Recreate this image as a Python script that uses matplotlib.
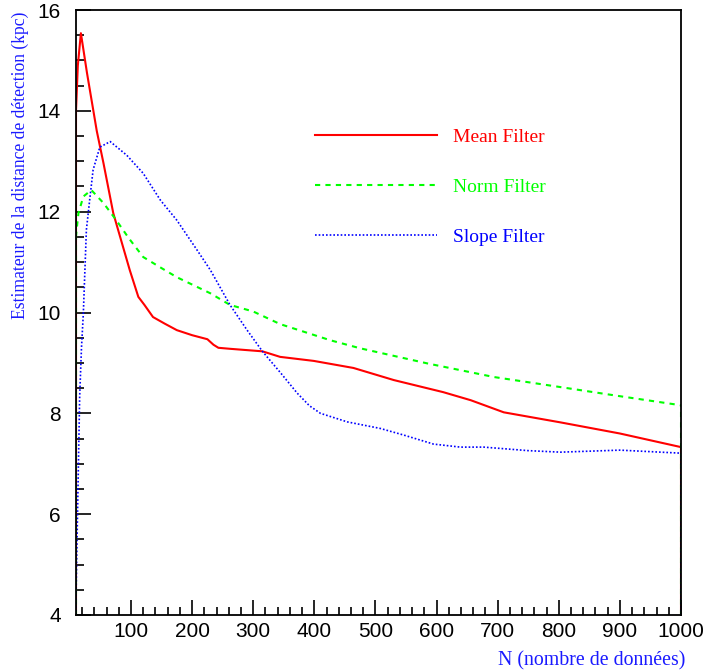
import matplotlib
matplotlib.use('Agg')
import matplotlib.pyplot as plt
from matplotlib.ticker import MultipleLocator

# Mean Filter (red, solid)
mean_x = [10, 13, 18, 28, 44, 55, 71, 87, 98, 112, 122, 136, 155, 175, 200, 225, 235, 243, 262,
          315, 344, 399, 464, 508, 530, 611, 656, 710, 803, 900, 1000]
mean_y = [14.0, 14.9, 15.54, 14.75, 13.6, 12.96, 11.97, 11.3, 10.84, 10.31, 10.15, 9.91, 9.78,
          9.65, 9.55, 9.47, 9.36, 9.30, 9.28, 9.23, 9.12, 9.04, 8.9, 8.74, 8.66, 8.42, 8.26,
          8.02, 7.82, 7.6, 7.33]

# Norm Filter (green, dashed)
norm_x = [10, 11, 14, 22, 35, 55, 76, 96, 120, 150, 175, 230, 262, 300, 344, 426, 475, 508,
          585, 694, 803, 900, 1000]
norm_y = [11.5, 11.64, 11.97, 12.3, 12.43, 12.17, 11.83, 11.48, 11.1, 10.88, 10.7, 10.38,
          10.15, 10.02, 9.77, 9.45, 9.29, 9.2, 8.99, 8.72, 8.52, 8.34, 8.16]

# Slope Filter (blue, dotted)
slope_x = [10, 11, 14, 16, 19, 22, 25, 27, 33, 38, 49, 66, 93, 120, 148, 175, 208, 230, 262,
           290, 315, 345, 372, 392, 410, 454, 508, 546, 595, 639, 677, 750, 803, 900, 1000]
slope_y = [4.3, 5.03, 7.01, 8.33, 9.31, 9.98, 10.98, 11.64, 12.3, 12.83, 13.28, 13.39, 13.12,
           12.76, 12.23, 11.83, 11.24, 10.84, 10.15, 9.65, 9.23, 8.8, 8.4, 8.15, 8.0, 7.83,
           7.7, 7.57, 7.39, 7.33, 7.33, 7.26, 7.23, 7.27, 7.21]

series = [
    ('Mean Filter', mean_x, mean_y, '#ff0000', dict(linestyle='-', linewidth=1.5)),
    ('Norm Filter', norm_x, norm_y, '#00ff00', dict(linestyle=(0, (2.5, 2.5)), linewidth=1.5)),
    ('Slope Filter', slope_x, slope_y, '#0000ff', dict(linestyle=(0, (1, 1.2)), linewidth=1.2)),
]

x_min, x_max = 10, 1000
y_min, y_max = 4, 16
title_blue = '#1a1aff'

fig = plt.figure(figsize=(7.07, 6.72), dpi=100)
ax = fig.add_axes([76 / 707, 1 - 615 / 672, (681 - 76) / 707, (615 - 10) / 672])

for name, xs, ys, col, style in series:
    ax.plot(xs, ys, color=col, label=name, **style)
    # histogram outline drops to the floor at both ends
    ax.plot([xs[0], xs[0]], [y_min, ys[0]], color=col, **style)
    ax.plot([xs[-1], xs[-1]], [y_min, ys[-1]], color=col, **style)

ax.set_xlim(x_min, x_max)
ax.set_ylim(y_min, y_max)

ax.xaxis.set_major_locator(MultipleLocator(100))
ax.xaxis.set_minor_locator(MultipleLocator(20))
ax.yaxis.set_major_locator(MultipleLocator(2))
ax.yaxis.set_minor_locator(MultipleLocator(0.5))
ax.tick_params(which='both', direction='in', top=False, right=False, width=1.2)
ax.tick_params(which='major', length=11, labelsize=15)
ax.tick_params(which='minor', length=5.5)
ax.tick_params(axis='x', pad=5)
ax.tick_params(axis='y', pad=11)
for lab in ax.get_xticklabels() + ax.get_yticklabels():
    lab.set_family('Liberation Sans')
for sp in ax.spines.values():
    sp.set_linewidth(1.3)

ax.set_xlabel('N (nombre de données)', loc='right', color=title_blue,
              family='Liberation Serif', fontsize=14.3)
ax.xaxis.set_label_coords(1.007, -0.06)
ax.xaxis.label.set_verticalalignment('top')
ax.set_ylabel('Estimateur de la distance de détection (kpc)', loc='top', color=title_blue,
              family='Liberation Serif', fontsize=12.7)
ax.yaxis.set_label_coords(-0.078, 0.997)

leg = ax.legend(loc='upper left', bbox_to_anchor=(0.395, 0.805), frameon=False,
                labelcolor='linecolor', handlelength=6.3, handletextpad=0.8,
                labelspacing=1.68, borderpad=0, borderaxespad=0,
                prop={'family': 'Liberation Serif', 'size': 14})

fig.savefig('out.png', dpi=100)
